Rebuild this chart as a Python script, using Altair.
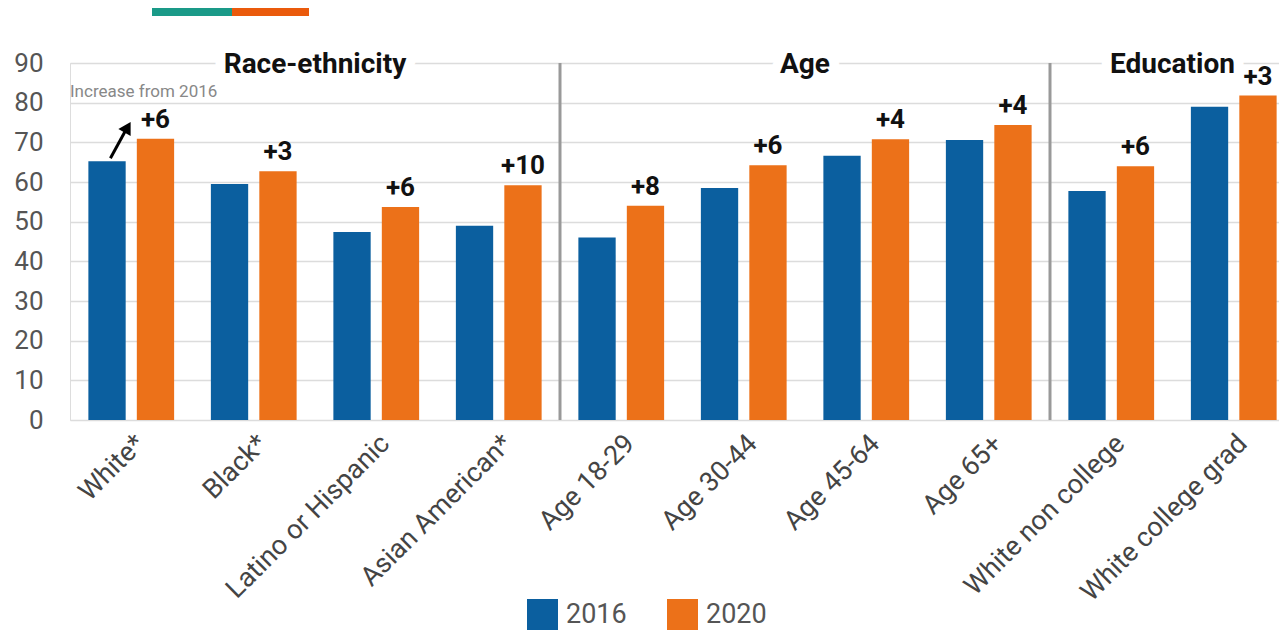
import altair as alt
import pandas as pd

categories = ["White*", "Black*", "Latino or Hispanic", "Asian American*",
              "Age 18-29", "Age 30-44", "Age 45-64", "Age 65+",
              "White non college", "White college grad"]
values_2016 = [65.2, 59.5, 47.4, 49.0, 46.0, 58.5, 66.6, 70.6, 57.7, 79.0]
values_2020 = [70.9, 62.7, 53.7, 59.2, 54.0, 64.2, 70.8, 74.4, 64.0, 81.8]
increase_labels = ["+6", "+3", "+6", "+10", "+8", "+6", "+4", "+4", "+6", "+3"]
group_names = ["Race-ethnicity", "Age", "Education"]
group_sizes = [4, 4, 2]
years = ["2016", "2020"]
y_ticks = [0, 10, 20, 30, 40, 50, 60, 70, 80, 90]
annotation_text = "Increase from 2016"

BLUE = "#0b5f9f"
ORANGE = "#ec7119"
FONT = "Roboto"
PLOT_W = 1209      # visible plot area (gridlines)
RANGE_W = 1225     # band range (the original is cropped at the right edge)

rows = []
for c, v16, v20, lab in zip(categories, values_2016, values_2020, increase_labels):
    rows.append({"category": c, "year": "2016", "value": v16, "label": ""})
    rows.append({"category": c, "year": "2020", "value": v20, "label": lab})
df = pd.DataFrame(rows)
df20 = df[df["year"] == "2020"]

# group positions in category units
starts, s = [], 0
for n in group_sizes:
    starts.append(s)
    s += n
groups_df = pd.DataFrame({
    "name": group_names,
    "pos": [st + n / 2 for st, n in zip(starts, group_sizes)],
    "value": [90] * len(group_names),
})
sep_df = pd.DataFrame({"pos": starts[1:], "value": [0] * (len(starts) - 1),
                       "v1": [90] * (len(starts) - 1)})

ann_df = pd.DataFrame({"pos": [0.0], "value": [82.6], "t": [annotation_text]})
arrow_df = pd.DataFrame({"pos": [0.33, 0.465], "value": [66.0, 73.6]})
arrow_head = pd.DataFrame({"pos": [0.47], "value": [73.8]})

y_axis = alt.Axis(values=y_ticks, labelFontSize=26, labelColor="#555", labelOverlap=False,
                  labelPadding=27, domain=False, ticks=False,
                  gridColor="#dcdcdc", gridWidth=1.5, labelFont=FONT)
y_scale = alt.Scale(domain=[0, 90], nice=False)


def ycol(field="value"):
    return alt.Y(f"{field}:Q", title=None, scale=y_scale, axis=y_axis)


x_band = alt.X("category:N", sort=categories, title=None,
               scale=alt.Scale(paddingInner=0.3, paddingOuter=0.15, range=[0, RANGE_W]),
               axis=alt.Axis(labelAngle=-45, labelFontSize=27, labelColor="#444",
                             labelPadding=10, labelAlign="right", labelBaseline="top",
                             labelLimit=400, domain=False, ticks=False, grid=False,
                             labelFont=FONT))
x_off = alt.XOffset("year:N", scale=alt.Scale(domain=years, paddingInner=0.23, paddingOuter=0))

bars = alt.Chart(df).mark_bar().encode(
    x=x_band, xOffset=x_off, y=ycol(),
    color=alt.Color("year:N", scale=alt.Scale(domain=years, range=[BLUE, ORANGE]),
                    legend=alt.Legend(title=None, orient="none", legendX=457, legendY=536,
                                      direction="horizontal", symbolType="square",
                                      symbolSize=960, symbolStrokeWidth=0,
                                      labelFontSize=27, labelColor="#555", labelFont=FONT,
                                      columnPadding=40, labelOffset=8, padding=0)),
)

inc = alt.Chart(df20).mark_text(fontSize=26, fontWeight="bold", color="#111",
                                baseline="bottom", dy=-6, font=FONT).encode(
    x=x_band, xOffset=x_off, y=ycol(), text="label:N")

band_layer = alt.layer(bars, inc)

xq = alt.X("pos:Q", scale=alt.Scale(domain=[0, len(categories)], range=[0, RANGE_W],
                                    nice=False, zero=False), axis=None)

seps = alt.Chart(sep_df).mark_rule(color="#999", strokeWidth=3).encode(
    x=xq, y=ycol(), y2="v1:Q")

halo = alt.Chart(groups_df).mark_text(fontSize=28, fontWeight="bold", stroke="white",
                                      strokeWidth=20, color="white", font=FONT, dy=2).encode(
    x=xq, y=ycol(), text="name:N")
glabels = alt.Chart(groups_df).mark_text(fontSize=28, fontWeight="bold", color="#111",
                                         font=FONT, dy=2).encode(
    x=xq, y=ycol(), text="name:N")

ann = alt.Chart(ann_df).mark_text(fontSize=17, color="#888", align="left", font=FONT).encode(
    x=xq, y=ycol(), text="t:N")
arrow = alt.Chart(arrow_df).mark_line(color="#000", strokeWidth=3).encode(
    x=xq, y=ycol())
head = alt.Chart(arrow_head).mark_point(shape="triangle-up", filled=True, color="#000",
                                        size=200, angle=30, opacity=1).encode(
    x=xq, y=ycol())

deco = pd.DataFrame({"a": [0]})
deco1 = alt.Chart(deco).mark_rect(color="#1a9a88").encode(
    x=alt.value(82), x2=alt.value(162), y=alt.value(-55), y2=alt.value(-47))
deco2 = alt.Chart(deco).mark_rect(color="#ea5a0c").encode(
    x=alt.value(162), x2=alt.value(239), y=alt.value(-55), y2=alt.value(-47))

chart = alt.layer(
    band_layer, seps, halo, glabels, ann, arrow, head, deco1, deco2
).resolve_scale(x="independent").properties(
    width=PLOT_W, height=357,
    autosize=alt.AutoSizeParams(type="none"),
    padding={"left": 62, "top": 55, "right": 0, "bottom": 213},
).configure_view(stroke=None).configure(font=FONT)

chart.save("out.html", embed_options={"renderer": "svg", "actions": False})
